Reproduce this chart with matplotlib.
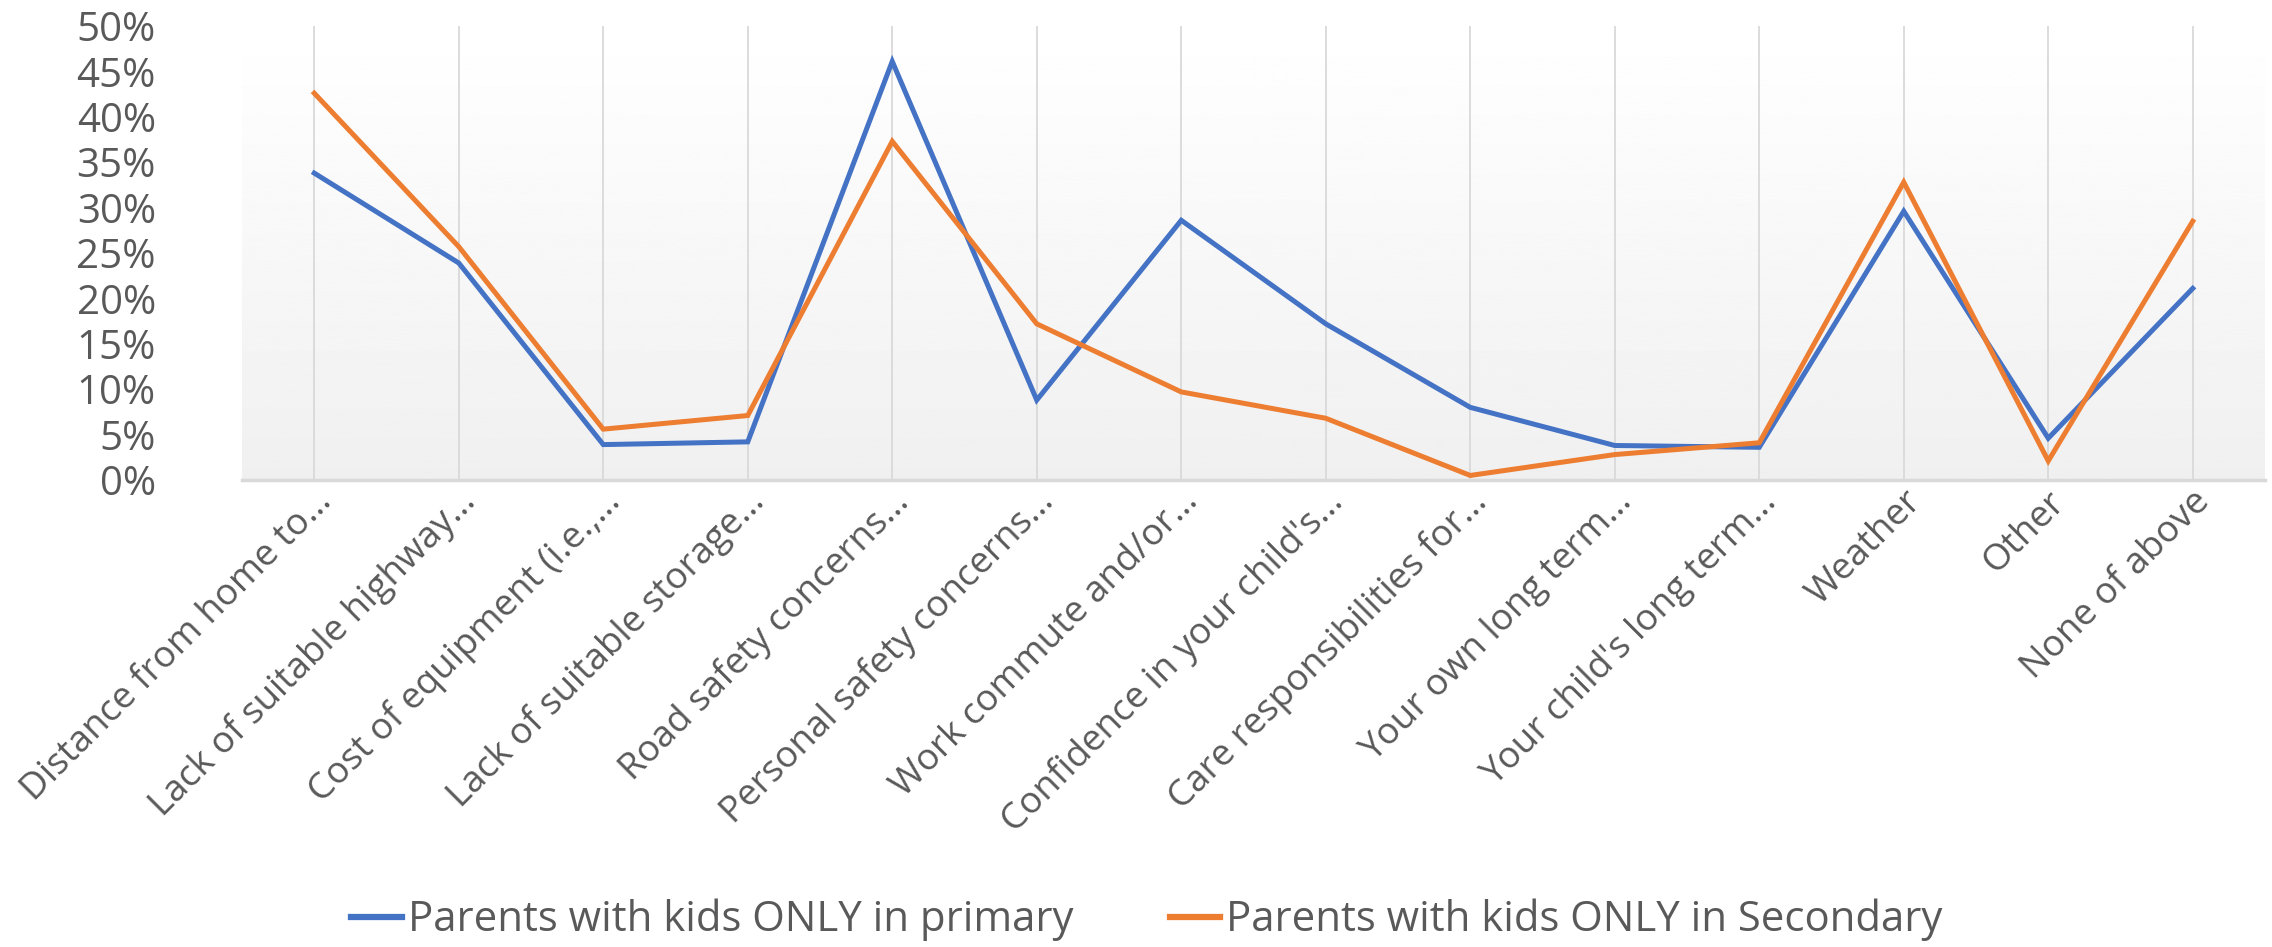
import matplotlib
matplotlib.use("Agg")
import matplotlib.pyplot as plt
import numpy as np
from matplotlib import font_manager
from matplotlib.transforms import ScaledTranslation

categories = [
    "Distance from home to…",
    "Lack of suitable highway…",
    "Cost of equipment (i.e.,…",
    "Lack of suitable storage…",
    "Road safety concerns…",
    "Personal safety concerns…",
    "Work commute and/or…",
    "Confidence in your child's…",
    "Care responsibilities for…",
    "Your own long term…",
    "Your child's long term…",
    "Weather",
    "Other",
    "None of above",
]
primary = [33.8, 23.9, 3.9, 4.2, 46.1, 8.8, 28.6, 17.2, 8.0, 3.8, 3.6, 29.6, 4.6, 21.1]
secondary = [42.6, 25.7, 5.6, 7.1, 37.3, 17.2, 9.7, 6.8, 0.5, 2.8, 4.1, 32.8, 2.1, 28.5]
series_names = ["Parents with kids ONLY in primary", "Parents with kids ONLY in Secondary"]
yticks = [0, 5, 10, 15, 20, 25, 30, 35, 40, 45, 50]

names = {f.name for f in font_manager.fontManager.ttflist}
narrow = "Liberation Sans Narrow" if "Liberation Sans Narrow" in names else "Open Sans"
label_font = "Open Sans" if "Open Sans" in names else "DejaVu Sans"

W, H = 2272, 947
fig = plt.figure(figsize=(W / 100, H / 100), dpi=100)
left, right, top, bottom = 242, 2265, 26, 480
ax = fig.add_axes([left / W, 1 - bottom / H, (right - left) / W, (bottom - top) / H])

x = np.arange(len(categories))
ax.set_xlim(-0.5, len(categories) - 0.5)
ax.set_ylim(0, 50)

# gradient background
grad = np.linspace(1.0, 0.94, 256).reshape(-1, 1)
ax.imshow(grad, extent=[-0.5, len(categories) - 0.5, 0, 50], aspect="auto",
          cmap="gray", vmin=0, vmax=1, zorder=0, origin="upper")

for xi in x:
    ax.axvline(xi, color="#d9d9d9", lw=1.3, zorder=1)

ax.plot(x, primary, color="#4472C4", lw=3.6, zorder=3, label=series_names[0],
        solid_joinstyle="miter")
ax.plot(x, secondary, color="#ED7D31", lw=3.6, zorder=4, label=series_names[1],
        solid_joinstyle="miter")

for s in ["top", "right", "left"]:
    ax.spines[s].set_visible(False)
ax.spines["bottom"].set_color("#d9d9d9")
ax.spines["bottom"].set_linewidth(2.5)
ax.spines["bottom"].set_zorder(5)

ax.set_yticks(yticks)
ax.set_yticklabels([f"{v}%" for v in yticks], fontsize=29, color="#595959", family=narrow)
ax.tick_params(axis="y", length=0, pad=62)
ax.set_xticks(x)
ax.set_xticklabels(categories, rotation=45, ha="right", va="center",
                   rotation_mode="anchor", fontsize=26.5, color="#595959", family=label_font)
ax.tick_params(axis="x", length=0, pad=12)
shift = ScaledTranslation(12 / 100, 0, fig.dpi_scale_trans)
for lbl in ax.get_xticklabels():
    lbl.set_transform(lbl.get_transform() + shift)

leg = fig.legend(loc="center", bbox_to_anchor=(0.5 + 11 / W, 1 - 920 / H), ncol=2,
                 frameon=False, prop={"family": narrow, "size": 30.2}, handlelength=1.2,
                 handletextpad=0.15, columnspacing=2.3)
for t in leg.get_texts():
    t.set_color("#595959")
for h in leg.legend_handles:
    h.set_linewidth(4.5)

fig.savefig("out.png", dpi=100, facecolor="white")
